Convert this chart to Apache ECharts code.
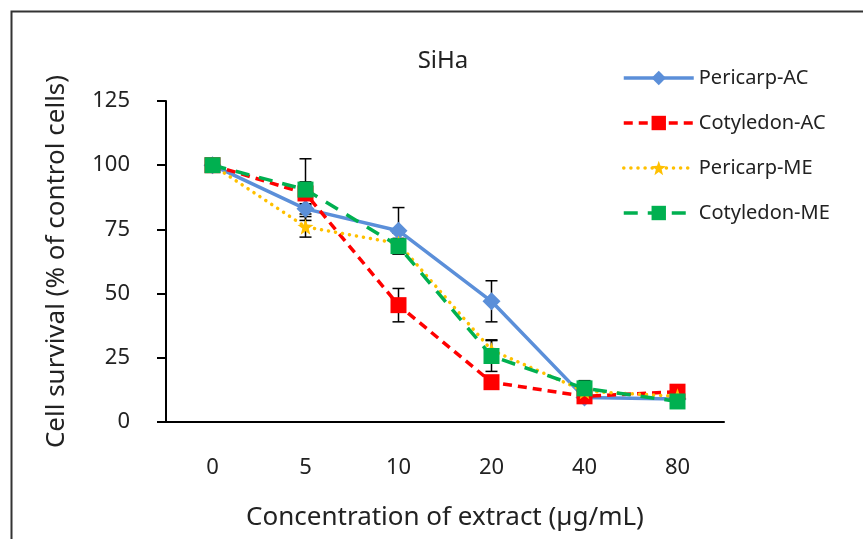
<!DOCTYPE html>
<html>
<head>
<meta charset="utf-8">
<script src="https://cdn.jsdelivr.net/npm/echarts@6/dist/echarts.min.js"></script>
<style>html,body{margin:0;padding:0;background:#fff}#c{width:863px;height:539px}</style>
</head>
<body>
<div id="c"></div>
<script>
const categories = ['0', '5', '10', '20', '40', '80'];
const yTicks = [0, 25, 50, 75, 100, 125];
const pericarpAC = [100, 83, 74.5, 47, 9.5, 9];
const pericarpACErr = [1, 2, 9, 8, 2, 1];
const cotyledonAC = [100, 89, 45.5, 15.5, 10, 11.8];
const cotyledonACErr = [1, 4.5, 6.5, 2, 1, 1];
const pericarpME = [100, 76, 69.5, 28, 12, 10];
const pericarpMEErr = [1, 4, 4, 4, 2, 1];
const cotyledonME = [100, 90.5, 68.5, 25.7, 13.1, 8];
const cotyledonMEErr = [1, 12, 3, 6, 3, 1];

const FONT = '"Noto Sans", sans-serif';
const TXT = '#222';

function errSeries(vals, errs, name) {
  return {
    type: 'custom',
    name: name + '-err',
    z: 1,
    silent: true,
    data: vals.map((v, i) => [i, v, errs[i]]),
    renderItem: function (params, api) {
      const x = api.value(0), v = api.value(1), e = api.value(2);
      const top = api.coord([x, v + e]);
      const bot = api.coord([x, v - e]);
      const hw = 6;
      const st = { stroke: '#000', lineWidth: 1.5 };
      return {
        type: 'group',
        children: [
          { type: 'line', shape: { x1: top[0], y1: top[1], x2: bot[0], y2: bot[1] }, style: st },
          { type: 'line', shape: { x1: top[0] - hw, y1: top[1], x2: top[0] + hw, y2: top[1] }, style: st },
          { type: 'line', shape: { x1: bot[0] - hw, y1: bot[1], x2: bot[0] + hw, y2: bot[1] }, style: st }
        ]
      };
    }
  };
}

const chart = echarts.init(document.getElementById('c'), null, { renderer: 'canvas' });
chart.setOption({
  animation: false,
  backgroundColor: '#fff',
  title: {
    text: 'SiHa', left: 438, top: 44, textAlign: 'center',
    textStyle: { fontFamily: FONT, fontSize: 24, fontWeight: 'normal', color: TXT }
  },
  graphic: [{
    type: 'rect', left: 9, top: 9, z: 100, silent: true,
    shape: { x: 0, y: 0, width: 900, height: 600 },
    style: { fill: 'none', stroke: '#333', lineWidth: 2 }
  }],
  legend: {
    orient: 'vertical', left: 622, top: 68, padding: 0, itemWidth: 70, itemHeight: 18, itemGap: 25,
    lineStyle: { width: 3.5 },
    textStyle: { fontFamily: FONT, fontSize: 20, color: TXT },
    data: ['Pericarp-AC', 'Cotyledon-AC', 'Pericarp-ME', 'Cotyledon-ME']
  },
  grid: { left: 166, right: 139, top: 101, bottom: 117 },
  xAxis: {
    type: 'category', data: categories, boundaryGap: true,
    name: 'Concentration of extract (µg/mL)', nameLocation: 'middle', nameGap: 83,
    nameTextStyle: { fontFamily: FONT, fontSize: 26, color: TXT },
    axisLine: { lineStyle: { color: '#000', width: 2 } },
    axisTick: { length: 9, lineStyle: { color: '#000', width: 2 } },
    axisLabel: { fontFamily: FONT, fontSize: 22, color: TXT, margin: 35 }
  },
  yAxis: {
    type: 'value', min: yTicks[0], max: yTicks[yTicks.length - 1], interval: 25,
    name: 'Cell survival (% of control cells)', nameLocation: 'middle', nameGap: 96, nameRotate: 90,
    nameTextStyle: { fontFamily: FONT, fontSize: 26, color: TXT },
    axisLine: { show: true, lineStyle: { color: '#000', width: 2 } },
    axisTick: { show: true, length: 9, lineStyle: { color: '#000', width: 2 } },
    splitLine: { show: false },
    axisLabel: { fontFamily: FONT, fontSize: 22, color: TXT, margin: 36 }
  },
  series: [
    errSeries(pericarpAC, pericarpACErr, 'Pericarp-AC'),
    errSeries(cotyledonAC, cotyledonACErr, 'Cotyledon-AC'),
    errSeries(pericarpME, pericarpMEErr, 'Pericarp-ME'),
    errSeries(cotyledonME, cotyledonMEErr, 'Cotyledon-ME'),
    {
      name: 'Pericarp-AC', type: 'line', data: pericarpAC, z: 2,
      symbol: 'diamond', symbolSize: 18,
      itemStyle: { color: '#5B8FD9' },
      lineStyle: { color: '#5B8FD9', width: 3.5, type: 'solid' }
    },
    {
      name: 'Cotyledon-AC', type: 'line', data: cotyledonAC, z: 3,
      symbol: 'rect', symbolSize: 16,
      itemStyle: { color: '#FF0000' },
      lineStyle: { color: '#FF0000', width: 3.5, type: [9, 6] }
    },
    {
      name: 'Pericarp-ME', type: 'line', data: pericarpME, z: 4,
      symbol: 'path://M50,0 L62,35 L100,38 L70,60 L80,100 L50,78 L20,100 L30,60 L0,38 L38,35 Z', symbolSize: 16,
      itemStyle: { color: '#FFC000' },
      lineStyle: { color: '#FFC000', width: 3.5, type: [0.1, 7], cap: 'round' }
    },
    {
      name: 'Cotyledon-ME', type: 'line', data: cotyledonME, z: 5,
      symbol: 'rect', symbolSize: 16,
      itemStyle: { color: '#00B050' },
      lineStyle: { color: '#00B050', width: 3.5, type: [14, 10] }
    }
  ]
});
</script>
</body>
</html>
